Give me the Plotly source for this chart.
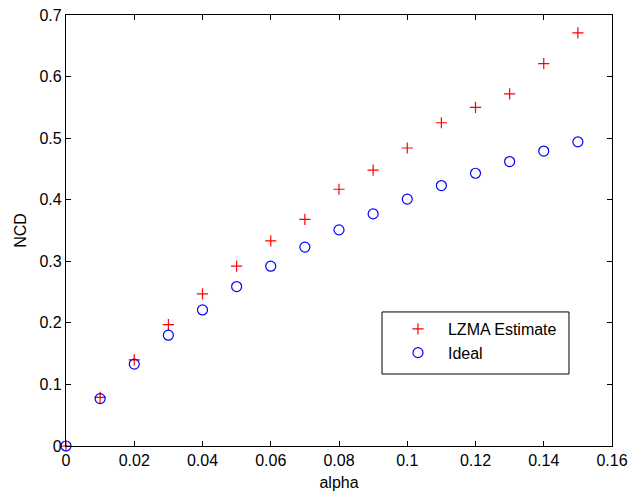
import plotly.graph_objects as go

alpha = [0, 0.01, 0.02, 0.03, 0.04, 0.05, 0.06, 0.07, 0.08, 0.09, 0.10, 0.11, 0.12, 0.13, 0.14, 0.15]
lzma = [0, 0.079, 0.140, 0.197, 0.247, 0.292, 0.333, 0.368, 0.417, 0.448, 0.484, 0.525, 0.550, 0.572, 0.621, 0.671]
ideal = [0, 0.077, 0.133, 0.180, 0.221, 0.259, 0.292, 0.323, 0.351, 0.377, 0.401, 0.423, 0.443, 0.462, 0.479, 0.494]

xticks = [0, 0.02, 0.04, 0.06, 0.08, 0.1, 0.12, 0.14, 0.16]
xticklabels = ["0", "0.02", "0.04", "0.06", "0.08", "0.1", "0.12", "0.14", "0.16"]
yticks = [0, 0.1, 0.2, 0.3, 0.4, 0.5, 0.6, 0.7]
yticklabels = ["0", "0.1", "0.2", "0.3", "0.4", "0.5", "0.6", "0.7"]

font = "Liberation Sans, Arial, Helvetica, sans-serif"
fs = 16

fig = go.Figure()
fig.add_trace(go.Scatter(
    x=alpha, y=lzma, mode="markers", name="LZMA Estimate", legendgroup="a",
    marker=dict(symbol="cross-thin", size=8, color="rgba(0,0,0,0)",
                line=dict(color="#ff0000", width=1.2)),
    cliponaxis=False,
))
fig.add_trace(go.Scatter(
    x=alpha, y=ideal, mode="markers", name="Ideal", legendgroup="b",
    marker=dict(symbol="circle-open", size=10, color="#0000ff",
                line=dict(color="#0000ff", width=1.2)),
    cliponaxis=False,
))

axis_common = dict(
    showgrid=False, zeroline=False, showline=True, linecolor="black", linewidth=1.2,
    mirror="ticks", ticks="inside", ticklen=5, tickcolor="black", tickwidth=1,
    tickfont=dict(family=font, size=fs, color="black"), automargin=False,
)
fig.update_xaxes(range=[0, 0.16], tickvals=xticks, ticktext=xticklabels,
                 title=dict(text="alpha", font=dict(family=font, size=fs, color="black"), standoff=8),
                 **axis_common)
fig.update_yaxes(range=[0, 0.7], tickvals=yticks, ticktext=yticklabels,
                 title=dict(text="NCD", font=dict(family=font, size=fs, color="black"), standoff=8),
                 **axis_common)

# legend frame
fig.add_shape(type="rect", xref="paper", yref="paper",
              x0=0.5788, x1=0.9212, y0=0.167, y1=0.311,
              line=dict(color="black", width=1), fillcolor="white", layer="above")

fig.update_layout(
    width=629, height=492,
    margin=dict(l=66, r=17, t=15, b=46),
    paper_bgcolor="white", plot_bgcolor="white",
    font=dict(family=font, size=fs, color="black"),
    legend=dict(x=0.5897, y=0.311, xanchor="left", yanchor="top",
                borderwidth=0, bgcolor="rgba(0,0,0,0)",
                itemwidth=50, font=dict(family=font, size=fs, color="black"),
                tracegroupgap=0),
    showlegend=True,
)

fig.write_html("out.html", config={"displayModeBar": False},
               post_script="document.body.style.margin='0px';document.body.style.overflow='hidden';")
